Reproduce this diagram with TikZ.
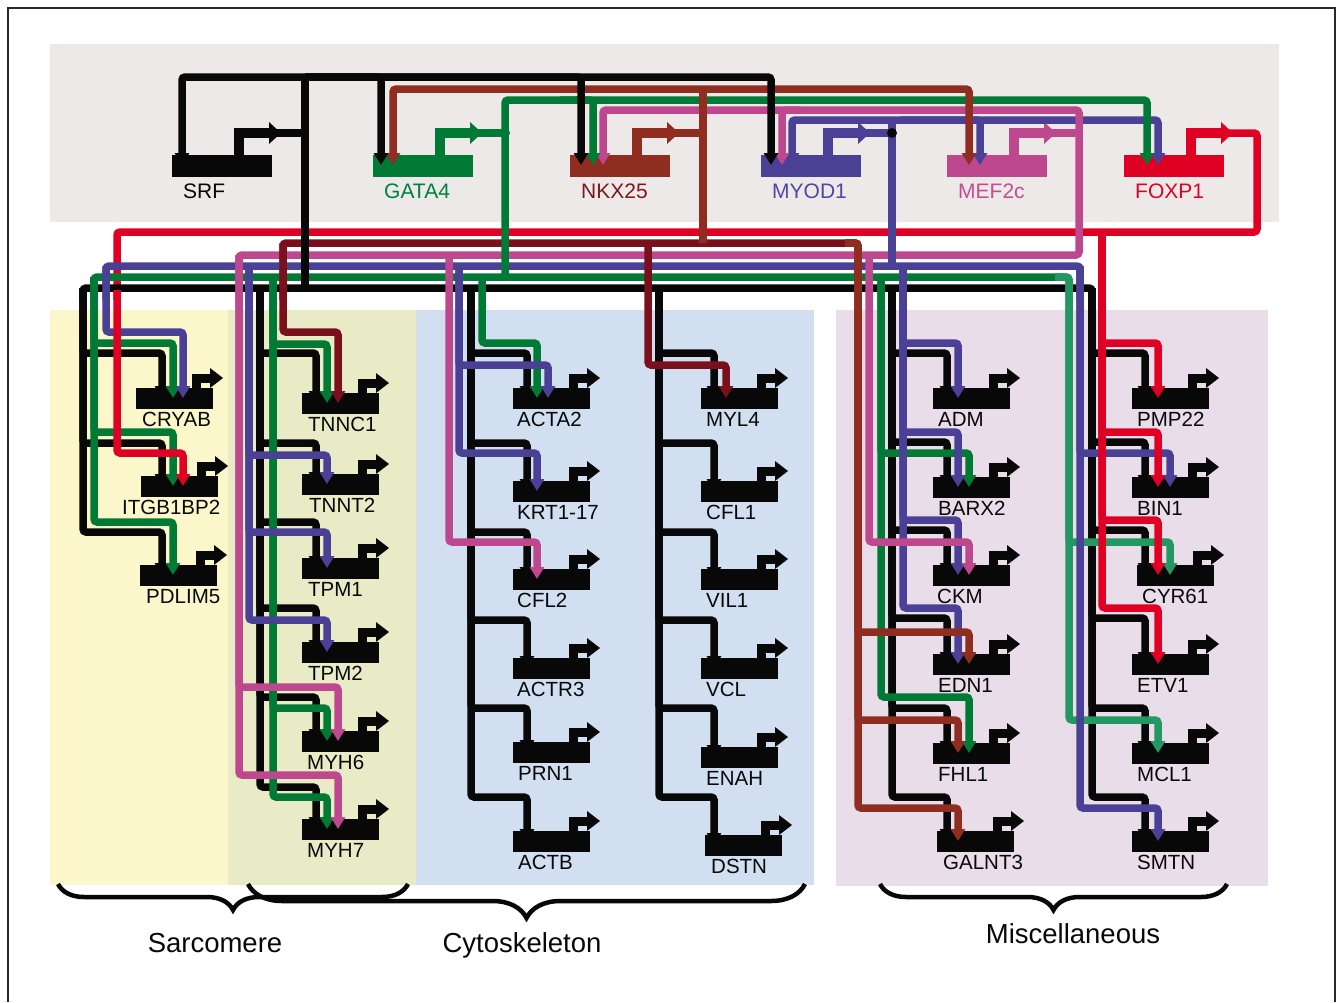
\documentclass[tikz,border=0pt]{standalone}
\usepackage{fontspec}
\setmainfont{Liberation Sans}
\usetikzlibrary{arrows.meta,decorations.pathreplacing}
\definecolor{cblack}{RGB}{8,8,8}
\definecolor{cgreen}{RGB}{0,122,52}
\definecolor{cteal}{RGB}{35,152,98}
\definecolor{crust}{RGB}{143,45,32}
\definecolor{cmaroon}{RGB}{122,16,28}
\definecolor{cpurple}{RGB}{74,65,150}
\definecolor{cmag}{RGB}{190,72,142}
\definecolor{cred}{RGB}{224,0,36}
\definecolor{lgreen}{RGB}{0,128,60}
\definecolor{lrust}{RGB}{125,25,30}
\definecolor{lpurple}{RGB}{78,72,162}
\definecolor{lmag}{RGB}{196,76,146}
\definecolor{bggray}{RGB}{237,233,232}
\definecolor{bgyellow}{RGB}{251,247,202}
\definecolor{bgolive}{RGB}{233,235,198}
\definecolor{bgblue}{RGB}{209,223,241}
\definecolor{bgpink}{RGB}{232,221,232}
\definecolor{framegray}{RGB}{40,40,40}
\tikzset{
  wire/.style={line width=7.5pt, rounded corners=3pt},
  arr/.style={wire, -{Triangle[length=12pt,width=14pt]}},
  prom/.style={line width=9pt, line join=miter, draw=cblack},
  tfprom/.style={line width=10pt, line join=miter},
  gb/.style={rectangle, fill=cblack, anchor=north west, minimum width=77pt, minimum height=21pt, inner sep=0pt},
  tfb/.style={rectangle, anchor=north west, minimum width=100pt, minimum height=22pt, inner sep=0pt},
  glab/.style={anchor=base west, inner sep=0pt, font=\fontsize{20.5}{24}\selectfont, text=cblack},
  tflab/.style={anchor=base west, inner sep=0pt, font=\fontsize{21}{25}\selectfont},
  grplab/.style={anchor=base, inner sep=0pt, font=\fontsize{27.5}{32}\selectfont, text=cblack},
  bracestyle/.style={decorate, decoration={brace, mirror, amplitude=#1}, line width=4.5pt, draw=cblack},
}
\newcommand{\genebox}[5]{%
  \node[gb] (#1) at (#2,#3) {};
  \coordinate (#1-in) at (#2,{#3+10});
  \draw[prom] ({#2+60},{#3+1}) |- ({#2+76},{#3-10});
  \fill[cblack] ({#2+74},{#3-20}) -- ({#2+87},{#3-10}) -- ({#2+74},{#3}) -- cycle;
  \node[glab] (#1-lab) at ({#2+#5},{#3+38}) {#4};
}
\newcommand{\tfgene}[5]{%
  \node[tfb, fill=#3] (#1) at (#2,155) {};
  \coordinate (#1-in) at (#2,165);
  \draw[tfprom, draw=#3] ({#2+67},156) |- ({#2+99},133);
  \fill[#3] ({#2+97},122) -- ({#2+109},133) -- ({#2+97},144) -- cycle;
  \node[tflab, text=#4] (#1-lab) at ({#2+11},198) {#5};
}
\newcommand{\regbranch}[6]{\draw[arr,#1] (#2,#3) |- (#4,#5) -- (#4,0 |- #6-in);}
\begin{document}
\begin{tikzpicture}[x=1pt,y=-1pt]
\useasboundingbox (0,0) rectangle (1336,1002);
% backgrounds
\fill[bggray] (50,44) rectangle (1279,222);
\fill[bgyellow] (50,310) rectangle (228,885);
\fill[bgolive] (228,310) rectangle (416,885);
\fill[bgblue] (416,310) rectangle (814,885);
\fill[bgpink] (836,310) rectangle (1268,886);
\draw[line width=1.5pt, framegray] (8,1002) -- (8,8) -- (1335,8) -- (1335,1002);

% transcription factors
\tfgene{SRF}{172}{cblack}{cblack}{SRF}
\tfgene{GATA}{373}{cgreen}{lgreen}{GATA4}
\tfgene{NKX}{570}{crust}{lrust}{NKX25}
\tfgene{MYOD}{761}{cpurple}{lpurple}{MYOD1}
\tfgene{MEF}{947}{cmag}{lmag}{MEF2c}
\tfgene{FOXP}{1124}{cred}{cred}{FOXP1}

% target genes
\genebox{CRYAB}{136}{388}{CRYAB}{6}
\genebox{ITGB}{141}{476}{ITGB1BP2}{-19}
\genebox{PDLIM}{140}{565}{PDLIM5}{6}
\genebox{TNNC}{302}{393}{TNNC1}{6}
\genebox{TNNT}{302}{474}{TNNT2}{7}
\genebox{TPMa}{302}{558}{TPM1}{6}
\genebox{TPMb}{302}{642}{TPM2}{6}
\genebox{MYHa}{302}{731}{MYH6}{5}
\genebox{MYHb}{302}{819}{MYH7}{5}
\genebox{ACTA}{513}{388}{ACTA2}{4}
\genebox{KRT}{513}{481}{KRT1-17}{4}
\genebox{CFLb}{513}{569}{CFL2}{4}
\genebox{ACTR}{513}{658}{ACTR3}{4}
\genebox{PRN}{513}{742}{PRN1}{5}
\genebox{ACTB}{513}{831}{ACTB}{5}
\genebox{MYL}{701}{388}{MYL4}{5}
\genebox{CFLa}{701}{481}{CFL1}{5}
\genebox{VIL}{701}{569}{VIL1}{5}
\genebox{VCL}{701}{658}{VCL}{5}
\genebox{ENAH}{701}{747}{ENAH}{5}
\genebox{DSTN}{705}{835}{DSTN}{6}
\genebox{ADM}{933}{388}{ADM}{5}
\genebox{BARX}{933}{477}{BARX2}{5}
\genebox{CKM}{933}{565}{CKM}{4}
\genebox{EDN}{933}{654}{EDN1}{5}
\genebox{FHL}{933}{743}{FHL1}{5}
\genebox{GALNT}{937}{831}{GALNT3}{6}
\genebox{PMP}{1132}{388}{PMP22}{5}
\genebox{BIN}{1132}{477}{BIN1}{5}
\genebox{CYR}{1137}{565}{CYR61}{5}
\genebox{ETV}{1132}{654}{ETV1}{5}
\genebox{MCL}{1132}{743}{MCL1}{5}
\genebox{SMTN}{1132}{831}{SMTN}{5}

% ---------- FOXP1 (red), upper part
\draw[wire,cred] (1228,133) -| (1257,232) -| (117,300);

% ---------- MYOD1 top line (purple)
\draw[arr,cpurple] (892,120) -| (792,0 |- MYOD-in);
\draw[arr,cpurple] (892,120) -| (1158,0 |- FOXP-in);
\draw[arr,cpurple] (900,120) -| (980,0 |- MEF-in);

% ---------- MEF2c (magenta)
\draw[arr,cmag] (239,300) |- (1079,255) |- (603,110) -- (603,0 |- NKX-in);
\draw[wire,cmag] (1050,133) -- (1079,133);
\draw[arr,cmag] (800,110) -| (782,0 |- MYOD-in);

% ---------- buses
\draw[wire,cmaroon] (283,300) |- (852,243);
\draw[wire,cpurple] (106,300) |- (1080,266) -- (1080,300);
\draw[wire,cgreen] (94,300) |- (1062,277);
\draw[wire,cblack] (83,300) |- (1092,288) -- (1092,300);

% ---------- GATA4 (green)
\draw[arr,cgreen] (505,277) |- (1147,100) -- (1147,0 |- FOXP-in);
\draw[arr,cgreen] (560,100) -| (593,0 |- NKX-in);
\draw[wire,cgreen] (478,133) -- (505,133);

% ---------- NKX25 (rust)
\draw[arr,crust] (703,89) -| (393,0 |- GATA-in);
\draw[arr,crust] (703,89) -| (969,0 |- MEF-in);
\draw[wire,crust] (703,89) -- (703,243);
\draw[wire,crust] (674,133) -- (703,133);

% ---------- MYOD1 trunk
\draw[wire,cpurple] (892,124) -- (892,266);
\draw[wire,cpurple] (865,133) -- (892,133);

% ---------- SRF (black)
\draw[arr,cblack] (305,77) -| (182,0 |- SRF-in);
\draw[arr,cblack] (305,77) -| (381,0 |- GATA-in);
\draw[arr,cblack] (305,77) -| (581,0 |- NKX-in);
\draw[arr,cblack] (305,77) -| (771,0 |- MYOD-in);
\draw[wire,cblack] (305,77) -- (305,288);
\draw[wire,cblack] (277,133) -- (305,133);

\fill[cgreen] (505,133) circle (5);
\fill[cblack] (892,133) circle (5);

% ---------- column fans: black
\foreach \yb/\g in {353/CRYAB,443/ITGB,532/PDLIM} {\regbranch{cblack}{83}{288}{162}{\yb}{\g}}
\foreach \yb/\g in {353/TNNC,443/TNNT,522/TPMa,608/TPMb,697/MYHa,787/MYHb} {\regbranch{cblack}{260}{288}{316}{\yb}{\g}}
\foreach \yb/\g in {353/ACTA,443/KRT,532/CFLb,620/ACTR,708/PRN,797/ACTB} {\regbranch{cblack}{471}{288}{527}{\yb}{\g}}
\foreach \yb/\g in {353/MYL,443/CFLa,532/VIL,620/VCL,708/ENAH,797/DSTN} {\regbranch{cblack}{659}{288}{714}{\yb}{\g}}
\foreach \yb/\g in {353/ADM,442/BARX,530/CKM,618/EDN,708/FHL,797/GALNT} {\regbranch{cblack}{892}{288}{947}{\yb}{\g}}
\foreach \yb/\g in {353/PMP,442/BIN,530/CYR,618/ETV,708/MCL,797/SMTN} {\regbranch{cblack}{1092}{288}{1145}{\yb}{\g}}

% green
\foreach \yb/\g in {343/CRYAB,432/ITGB,522/PDLIM} {\regbranch{cgreen}{94}{277}{173}{\yb}{\g}}
\foreach \yb/\g in {344/TNNC,708/MYHa,797/MYHb} {\regbranch{cgreen}{273}{277}{327}{\yb}{\g}}
\regbranch{cgreen}{482}{277}{537}{343}{ACTA}
\foreach \yb/\g in {453/BARX,697/FHL} {\regbranch{cgreen}{881}{277}{969}{\yb}{\g}}
\draw[arr,cteal] (1055,277) -| (1069,542) -| (1170,0 |- CYR-in);
\draw[arr,cteal] (1055,277) -| (1069,720) -| (1158,0 |- MCL-in);

% purple
\regbranch{cpurple}{106}{266}{183}{332}{CRYAB}
\foreach \yb/\g in {455/TNNT,532/TPMa,620/TPMb} {\regbranch{cpurple}{249}{266}{327}{\yb}{\g}}
\regbranch{cpurple}{459}{266}{548}{365}{ACTA}
\regbranch{cpurple}{459}{266}{537}{453}{KRT}
\foreach \yb/\g in {343/ADM,432/BARX,520/CKM,608/EDN} {\regbranch{cpurple}{903}{266}{958}{\yb}{\g}}
\regbranch{cpurple}{1080}{266}{1170}{453}{BIN}
\regbranch{cpurple}{1080}{266}{1158}{808}{SMTN}

% magenta
\foreach \yb/\g in {687/MYHa,775/MYHb} {\regbranch{cmag}{239}{255}{338}{\yb}{\g}}
\regbranch{cmag}{449}{255}{537}{542}{CFLb}
\regbranch{cmag}{869}{255}{969}{542}{CKM}

% maroon / rust
\regbranch{cmaroon}{283}{243}{338}{332}{TNNC}
\regbranch{cmaroon}{648}{243}{726}{365}{MYL}
\draw[arr,crust] (845,243) -| (858,632) -| (969,0 |- EDN-in);
\draw[arr,crust] (845,243) -| (858,720) -| (958,0 |- FHL-in);
\draw[arr,crust] (845,243) -| (858,808) -| (958,0 |- GALNT-in);

% red
\draw[arr,cred] (117,290) |- (183,453) -- (183,0 |- ITGB-in);
\foreach \yb/\g in {343/PMP,432/BIN,520/CYR,608/ETV} {\regbranch{cred}{1102}{232}{1158}{\yb}{\g}}

% ---------- braces and group labels
\coordinate (brSa) at (58,884);
\coordinate (brSb) at (408,884);
\coordinate (brCa) at (248,884);
\coordinate (brCb) at (805,884);
\coordinate (brMa) at (880,884);
\coordinate (brMb) at (1227,884);
\draw[bracestyle=26pt] (brSa) -- (brSb);
\draw[bracestyle=34pt] (brCa) -- (brCb);
\draw[bracestyle=26pt] (brMa) -- (brMb);
\node[grplab] (sarc) at (215,952) {Sarcomere};
\node[grplab] (cyto) at (522,952) {Cytoskeleton};
\node[grplab] (misc) at (1073,943) {Miscellaneous};
\end{tikzpicture}
\end{document}
